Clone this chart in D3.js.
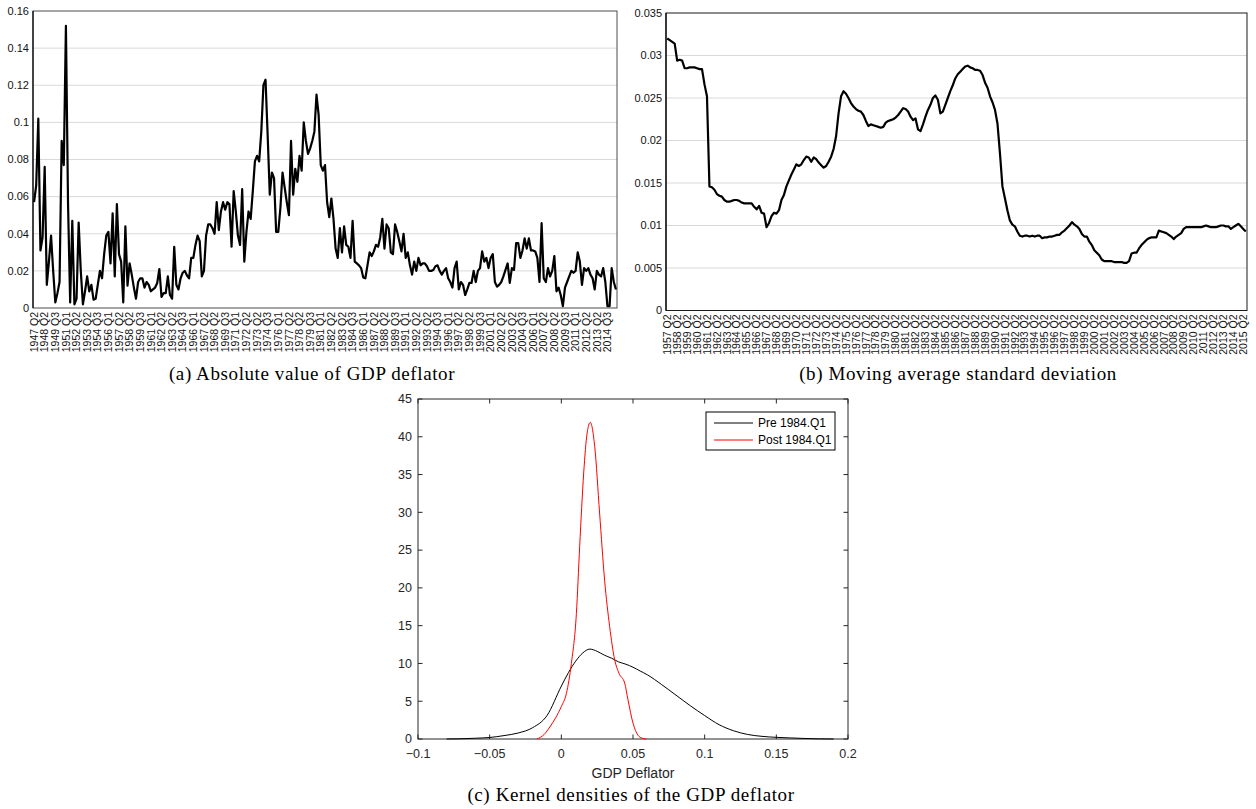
<!DOCTYPE html>
<html>
<head>
<meta charset="utf-8">
<script src="https://cdn.jsdelivr.net/npm/d3@7"></script>
<style>
body { margin: 0; background: #fff; }
svg { display: block; font-family: "Liberation Sans", Arial, sans-serif; }
</style>
</head>
<body>
<svg width="1256" height="809"></svg>
<script>
// (a) absolute value of GDP deflator, quarterly from 1947 Q2
var gdpAbs = [
  0.057, 0.066, 0.102, 0.031, 0.038, 0.076, 0.0125, 0.025, 0.039, 0.02,
  0.003, 0.008, 0.014, 0.09, 0.077, 0.152, 0.056, 0.003, 0.047, 0.002,
  0.005, 0.046, 0.02, 0.002, 0.009, 0.017, 0.009, 0.0125, 0.0045, 0.005,
  0.0125, 0.02, 0.016, 0.029, 0.039, 0.041, 0.024, 0.051, 0.017, 0.056,
  0.029, 0.025, 0.003, 0.044, 0.012, 0.024, 0.018, 0.011, 0.005, 0.014,
  0.016, 0.016, 0.011, 0.014, 0.0125, 0.009, 0.01, 0.011, 0.0135, 0.021,
  0.006, 0.008, 0.008, 0.017, 0.007, 0.005, 0.033, 0.0125, 0.01, 0.016,
  0.019, 0.02, 0.0175, 0.016, 0.027, 0.027, 0.034, 0.039, 0.036, 0.017,
  0.02, 0.039, 0.045, 0.045, 0.043, 0.04, 0.057, 0.042, 0.052, 0.057,
  0.053, 0.057, 0.056, 0.033,
  0.063, 0.052, 0.039, 0.034, 0.064, 0.025, 0.041, 0.052, 0.048, 0.063,
  0.079, 0.082, 0.079, 0.095, 0.12, 0.123, 0.093, 0.061, 0.073, 0.07,
  0.041, 0.041, 0.054, 0.073, 0.065, 0.057, 0.05, 0.09, 0.061, 0.075,
  0.068, 0.082, 0.074, 0.1, 0.09, 0.083, 0.086, 0.09, 0.095, 0.115,
  0.104, 0.077, 0.074, 0.077, 0.057, 0.049, 0.059, 0.048, 0.032, 0.027,
  0.043, 0.03, 0.044, 0.034, 0.033, 0.027, 0.047, 0.025, 0.024, 0.023,
  0.0215, 0.0165, 0.016, 0.023, 0.03, 0.028, 0.0305, 0.034, 0.033, 0.038,
  0.048, 0.032, 0.045, 0.043, 0.03, 0.029, 0.045, 0.041, 0.036, 0.0305,
  0.04, 0.027, 0.03, 0.023, 0.018, 0.025, 0.02, 0.027, 0.023, 0.024,
  0.024, 0.0225, 0.02, 0.02,
  0.0205, 0.0225, 0.023, 0.02, 0.018, 0.02, 0.0215, 0.016, 0.014, 0.011,
  0.0215, 0.025, 0.01, 0.014, 0.0125, 0.007, 0.01, 0.0135, 0.0135, 0.02,
  0.014, 0.02, 0.0215, 0.0305, 0.025, 0.027, 0.0215, 0.027, 0.029, 0.014,
  0.0115, 0.0125, 0.014, 0.017, 0.0205, 0.024, 0.0135, 0.0215, 0.0205, 0.035,
  0.035, 0.027, 0.031, 0.0375, 0.032, 0.0375, 0.031, 0.031, 0.0305, 0.027,
  0.014, 0.0457, 0.016, 0.014, 0.0215, 0.017, 0.02, 0.028, 0.009, 0.011,
  0.007, 0.001, 0.011, 0.014, 0.017, 0.02, 0.019, 0.02, 0.03, 0.025,
  0.0125, 0.0215, 0.02, 0.0215, 0.018, 0.016, 0.01, 0.02, 0.018, 0.017,
  0.0215, 0.014, 0.001, 0.001, 0.0215, 0.014, 0.01
];
var labelsA = [
  "1947 Q2","1948 Q2","1949 Q3","1951 Q1","1952 Q2","1953 Q2","1954 Q3","1956 Q1",
  "1957 Q2","1958 Q2","1959 Q3","1961 Q1","1962 Q2","1963 Q2","1964 Q3","1966 Q1",
  "1967 Q2","1968 Q2","1969 Q3","1971 Q1","1972 Q2","1973 Q2","1974 Q3","1976 Q1",
  "1977 Q2","1978 Q2","1979 Q3","1981 Q1","1982 Q2","1983 Q2","1984 Q3","1986 Q1",
  "1987 Q2","1988 Q2","1989 Q3","1991 Q1","1992 Q2","1993 Q2","1994 Q3","1996 Q1",
  "1997 Q2","1998 Q2","1999 Q3","2001 Q1","2002 Q2","2003 Q2","2004 Q3","2006 Q1",
  "2007 Q2","2008 Q2","2009 Q3","2011 Q1","2012 Q2","2013 Q2","2014 Q3"
];
var yTicksA = [0, 0.02, 0.04, 0.06, 0.08, 0.1, 0.12, 0.14, 0.16];

// (b) moving average standard deviation, quarterly from 1957 Q2
var movSd = [
  0.0320, 0.0318, 0.0316, 0.0314, 0.0294, 0.0295, 0.0294, 0.0285, 0.0285, 0.0286,
  0.0286, 0.0286, 0.0285, 0.0284, 0.0284, 0.0266, 0.0252, 0.0146, 0.0145, 0.0142,
  0.0137, 0.0135, 0.0134, 0.0130, 0.0128, 0.0128, 0.0129, 0.0130, 0.0130, 0.0129,
  0.0127, 0.0126, 0.0126, 0.0126, 0.0126, 0.0122, 0.0119, 0.0123, 0.0115, 0.0114,
  0.0098, 0.0103, 0.0111, 0.0115, 0.0114, 0.0118, 0.0130, 0.0136, 0.0146, 0.0153,
  0.0160, 0.0166, 0.0172, 0.0170, 0.0172, 0.0177, 0.0181, 0.0180, 0.0175, 0.0180,
  0.0178, 0.0174, 0.0171, 0.0168, 0.0170, 0.0175, 0.0181, 0.0190, 0.0205, 0.0232,
  0.0252, 0.0258, 0.0255, 0.0250, 0.0244, 0.0240, 0.0237, 0.0235, 0.0234, 0.0230,
  0.0223, 0.0217, 0.0219, 0.0218, 0.0217, 0.0216, 0.0215, 0.0216, 0.0221, 0.0223,
  0.0224, 0.0225, 0.0227, 0.0230, 0.0234, 0.0238, 0.0237, 0.0234, 0.0228, 0.0224,
  0.0226, 0.0213, 0.0211, 0.0219, 0.0228, 0.0236, 0.0242, 0.0250, 0.0253, 0.0248,
  0.0232, 0.0234, 0.0242, 0.0250, 0.0258, 0.0265, 0.0273, 0.0278, 0.0281, 0.0284,
  0.0287, 0.0288, 0.0286, 0.0285, 0.0283, 0.0283, 0.0282, 0.0277, 0.0268, 0.0262,
  0.0252, 0.0245, 0.0236, 0.0220, 0.0185, 0.0146, 0.0132, 0.0118, 0.0106, 0.0101,
  0.0099, 0.0093, 0.0088, 0.0087, 0.0088, 0.0088, 0.0087, 0.0088, 0.0087, 0.0088,
  0.0088, 0.0085, 0.0086, 0.0086, 0.0087, 0.0087, 0.0088, 0.0089, 0.0089, 0.0092,
  0.0094, 0.0097, 0.0100, 0.0104, 0.0101, 0.0099, 0.0096, 0.0090, 0.0087, 0.0087,
  0.0081, 0.0077, 0.0071, 0.0068, 0.0065, 0.0060, 0.0058, 0.0058, 0.0058, 0.0058,
  0.0057, 0.0057, 0.0057, 0.0057, 0.0056, 0.0056, 0.0058, 0.0067, 0.0068, 0.0068,
  0.0073, 0.0077, 0.0080, 0.0083, 0.0085, 0.0086, 0.0086, 0.0086, 0.0094, 0.0093,
  0.0092, 0.0091, 0.0089, 0.0087, 0.0084, 0.0087, 0.0089, 0.0091, 0.0096, 0.0098,
  0.0098, 0.0098, 0.0098, 0.0098, 0.0098, 0.0098, 0.0099, 0.0100, 0.0099, 0.0098,
  0.0098, 0.0098, 0.0099, 0.0100, 0.0100, 0.0099, 0.0099, 0.0096, 0.0098, 0.0100,
  0.0102, 0.0099, 0.0096, 0.0093
];
var labelsB = [
  "1957 Q2","1958 Q2","1959 Q2","1960 Q2","1961 Q2","1962 Q2","1963 Q2","1964 Q2",
  "1965 Q2","1966 Q2","1967 Q2","1968 Q2","1969 Q2","1970 Q2","1971 Q2","1972 Q2",
  "1973 Q2","1974 Q2","1975 Q2","1976 Q2","1977 Q2","1978 Q2","1979 Q2","1980 Q2",
  "1981 Q2","1982 Q2","1983 Q2","1984 Q2","1985 Q2","1986 Q2","1987 Q2","1988 Q2",
  "1989 Q2","1990 Q2","1991 Q2","1992 Q2","1993 Q2","1994 Q2","1995 Q2","1996 Q2",
  "1997 Q2","1998 Q2","1999 Q2","2000 Q2","2001 Q2","2002 Q2","2003 Q2","2004 Q2",
  "2005 Q2","2006 Q2","2007 Q2","2008 Q2","2009 Q2","2010 Q2","2011 Q2","2012 Q2",
  "2013 Q2","2014 Q2","2015 Q2"
];
var yTicksB = [0, 0.005, 0.01, 0.015, 0.02, 0.025, 0.03, 0.035];

// (c) kernel densities
var preX = [-0.08, -0.07, -0.06, -0.05, -0.04, -0.03, -0.02, -0.01, 0, 0.005,
  0.01, 0.015, 0.02, 0.025, 0.03, 0.035, 0.04, 0.045, 0.05, 0.055,
  0.06, 0.07, 0.08, 0.09, 0.1, 0.11, 0.12, 0.13, 0.14, 0.15,
  0.16, 0.17, 0.18, 0.19];
var preY = [0, 0.03, 0.1, 0.2, 0.45, 0.8, 1.5, 3.1, 7.0, 8.8,
  10.3, 11.4, 11.9, 11.6, 11.1, 10.7, 10.2, 9.9, 9.5, 9.0,
  8.5, 7.2, 5.8, 4.4, 3.1, 1.9, 1.1, 0.6, 0.35, 0.22,
  0.14, 0.07, 0.02, 0];
var postX = [-0.017, -0.012, -0.008, -0.004, 0, 0.0035, 0.007, 0.0105, 0.0128, 0.0156,
  0.018, 0.0202, 0.0233, 0.0267, 0.0302, 0.0337, 0.0372, 0.0402, 0.0442, 0.0465,
  0.05, 0.0535, 0.0565, 0.0593];
var postY = [0, 0.6, 1.6, 2.8, 4.3, 6.0, 10, 16.6, 25.5, 35.2,
  40.5, 41.9, 38.7, 29.9, 21, 14.9, 10.5, 8.7, 7.4, 5.2,
  2.1, 0.5, 0.1, 0];
var xTicksC = [-0.1, -0.05, 0, 0.05, 0.1, 0.15, 0.2];
var yTicksC = [0, 5, 10, 15, 20, 25, 30, 35, 40, 45];
var legendC = ["Pre 1984.Q1", "Post 1984.Q1"];

var svg = d3.select("svg");
var fmt = d3.format("~g");

// excel style quarterly panel
function quarterPanel(vals, labels, step, yTicks, box, lineW, borderCol, caption, capX)
{
  var x = d3.scalePoint().domain(d3.range(vals.length)).range([box.left, box.right]).padding(0.5);
  var y = d3.scaleLinear().domain([0, yTicks[yTicks.length-1]]).range([box.bottom, box.top]);
  var g = svg.append("g");

  g.selectAll("line.grid").data(yTicks.slice(1, -1)).enter().append("line")
    .attr("x1", box.left).attr("x2", box.right)
    .attr("y1", d => y(d)).attr("y2", d => y(d))
    .attr("stroke", "#d9d9d9").attr("stroke-width", 1);

  g.append("rect")
    .attr("x", box.left).attr("y", box.top)
    .attr("width", box.right - box.left).attr("height", box.bottom - box.top)
    .attr("fill", "none").attr("stroke", borderCol).attr("stroke-width", 1);

  g.append("line").attr("x1", box.left).attr("x2", box.left)
    .attr("y1", box.top).attr("y2", box.bottom).attr("stroke", "#000").attr("stroke-width", 1.2);

  g.selectAll("text.yl").data(yTicks).enter().append("text")
    .attr("x", box.left - 4).attr("y", d => y(d)).attr("dy", "0.35em")
    .attr("text-anchor", "end").attr("font-size", 11).attr("fill", "#111")
    .text(d => fmt(d));

  g.selectAll("text.xl").data(labels).enter().append("text")
    .attr("transform", (d, i) => "translate(" + x(i * step) + "," + (box.bottom + 4) + ") rotate(-90)")
    .attr("dy", "0.35em").attr("text-anchor", "end")
    .attr("font-size", 10.5).attr("fill", "#111")
    .text(d => d);

  var line = d3.line().x((d, i) => x(i)).y(d => y(d));
  g.append("path").datum(vals)
    .attr("d", line).attr("fill", "none")
    .attr("stroke", "#000").attr("stroke-width", lineW).attr("stroke-linejoin", "round");

  svg.append("text").attr("x", capX).attr("y", 380)
    .attr("text-anchor", "middle")
    .style("font-family", "'Liberation Serif', 'Times New Roman', serif")
    .style("font-size", "19px").style("letter-spacing", "0.6px")
    .text(caption);
}

quarterPanel(gdpAbs, labelsA, 5, yTicksA, {left: 33, right: 617, top: 11, bottom: 308}, 2.2, "#4d4d4d",
  "(a) Absolute value of GDP deflator", 312);
quarterPanel(movSd, labelsB, 4, yTicksB, {left: 666, right: 1247, top: 13, bottom: 310.5}, 2.2, "#1a1a1a",
  "(b) Moving average standard deviation", 958);

// (c) matlab style panel
var C = {left: 418, right: 848, top: 399, bottom: 739};
var xC = d3.scaleLinear().domain([-0.1, 0.2]).range([C.left, C.right]);
var yC = d3.scaleLinear().domain([0, 45]).range([C.bottom, C.top]);
var gC = svg.append("g");

gC.append("rect").attr("x", C.left).attr("y", C.top)
  .attr("width", C.right - C.left).attr("height", C.bottom - C.top)
  .attr("fill", "none").attr("stroke", "#262626").attr("stroke-width", 1);

var tl = 4.5;
gC.selectAll("line.xt").data(xTicksC).enter().append("path")
  .attr("d", d => "M" + xC(d) + "," + C.bottom + "v" + (-tl) + "M" + xC(d) + "," + C.top + "v" + tl)
  .attr("stroke", "#262626").attr("stroke-width", 1);
gC.selectAll("line.yt").data(yTicksC).enter().append("path")
  .attr("d", d => "M" + C.left + "," + yC(d) + "h" + tl + "M" + C.right + "," + yC(d) + "h" + (-tl))
  .attr("stroke", "#262626").attr("stroke-width", 1);

gC.selectAll("text.xl").data(xTicksC).enter().append("text")
  .attr("x", d => xC(d)).attr("y", 758).attr("text-anchor", "middle")
  .attr("font-size", 12.5).attr("fill", "#262626").text(d => fmt(d));
gC.selectAll("text.yl").data(yTicksC).enter().append("text")
  .attr("x", C.left - 6).attr("y", d => yC(d)).attr("dy", "0.35em").attr("text-anchor", "end")
  .attr("font-size", 12.5).attr("fill", "#262626").text(d => fmt(d));

gC.append("text").attr("x", (C.left + C.right) / 2).attr("y", 778)
  .attr("text-anchor", "middle").attr("font-size", 14).attr("fill", "#262626")
  .text("GDP Deflator");

var kLine = d3.line().x(d => xC(d[0])).y(d => yC(d[1])).curve(d3.curveMonotoneX);
gC.append("path").datum(d3.zip(preX, preY)).attr("d", kLine)
  .attr("fill", "none").attr("stroke", "#000").attr("stroke-width", 1);
gC.append("path").datum(d3.zip(postX, postY)).attr("d", kLine)
  .attr("fill", "none").attr("stroke", "#ff0000").attr("stroke-width", 1);

// legend
var lg = gC.append("g").attr("transform", "translate(706,412)");
lg.append("rect").attr("width", 129).attr("height", 38)
  .attr("fill", "#fff").attr("stroke", "#000").attr("stroke-width", 1);
var legCol = ["#000", "#ff0000"];
legendC.forEach(function(name, i) {
  var yy = 11 + i * 17;
  lg.append("line").attr("x1", 8).attr("x2", 47).attr("y1", yy).attr("y2", yy)
    .attr("stroke", legCol[i]).attr("stroke-width", 1);
  lg.append("text").attr("x", 52).attr("y", yy).attr("dy", "0.35em")
    .attr("font-size", 12).attr("fill", "#000").text(name);
});

svg.append("text").attr("x", 631).attr("y", 801)
  .attr("text-anchor", "middle")
  .style("font-family", "'Liberation Serif', 'Times New Roman', serif")
  .style("font-size", "19px").style("letter-spacing", "0.6px")
  .text("(c) Kernel densities of the GDP deflator");
</script>
</body>
</html>
